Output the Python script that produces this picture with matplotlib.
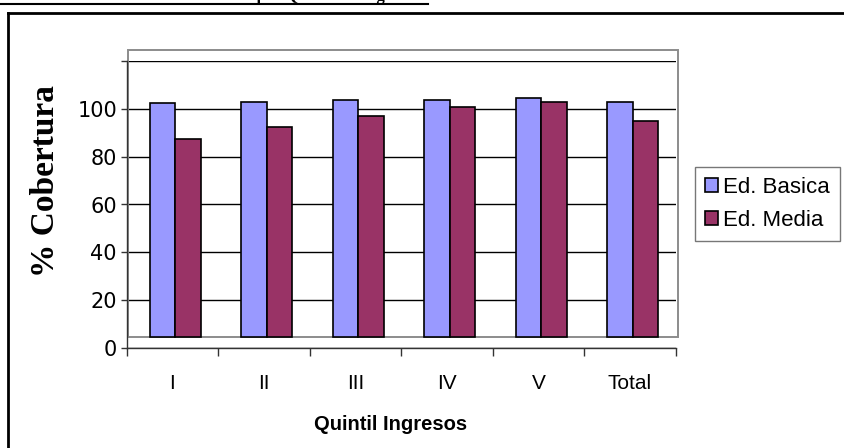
import matplotlib
matplotlib.use("Agg")
import matplotlib.pyplot as plt
from matplotlib.patches import Rectangle
from matplotlib.lines import Line2D
import numpy as np

# data
quintiles = ["I", "II", "III", "IV", "V", "Total"]
basica = [102.5, 103.0, 103.8, 103.8, 104.4, 103.0]
media = [87.4, 92.6, 97.1, 100.8, 103.0, 94.8]
series_names = ["Ed. Basica", "Ed. Media"]
yticks = [0, 20, 40, 60, 80, 100, 120]
ytick_labels = ["0", "20", "40", "60", "80", "100", ""]

W, H = 845, 448
fig = plt.figure(figsize=(W / 100, H / 100), dpi=100)

def fx(px):
    return px / W

def fy(py):
    return 1 - py / H

# axes placed where the excel axis lines sit
ax = fig.add_axes([fx(126.7), fy(348), fx(675.7) - fx(126.7), fy(61) - fy(348)])
ax.set_xlim(-0.5, 5.5)
ax.set_ylim(0, 120)

x = np.arange(len(quintiles))
w = 0.28
shift = 0.03
base = 4.7  # bars sit on the (shifted) plot-area floor, not on zero
ax.bar(x - w / 2 + shift, np.array(basica) - base, w, bottom=base,
       color="#9999FF", edgecolor="black", linewidth=1.2, zorder=3, label=series_names[0])
ax.bar(x + w / 2 + shift, np.array(media) - base, w, bottom=base,
       color="#993366", edgecolor="black", linewidth=1.2, zorder=3, label=series_names[1])

# grey plot-area box, offset from the axes like in the original
ax.add_patch(Rectangle((-0.4825, 4.6), 6.0045, 120.0, fill=False,
                       edgecolor="#8c8c8c", linewidth=1.4, clip_on=False, zorder=1))

ax.set_yticks(yticks)
ax.set_yticklabels(ytick_labels)
ax.yaxis.grid(True, color="black", linewidth=1.0, zorder=0)
ax.set_axisbelow(True)
ax.tick_params(axis="y", direction="out", length=4, width=1, pad=3,
               labelsize=15, colors="#333333", labelcolor="black")

ax.set_xticks(x)
ax.set_xticklabels(quintiles)
ax.set_xticks(np.arange(-0.5, 6, 1), minor=True)
ax.tick_params(axis="x", which="major", length=0, pad=19, labelsize=15)
ax.tick_params(axis="x", which="minor", direction="out", length=6, width=1, color="#333333")

for s in ["top", "right"]:
    ax.spines[s].set_visible(False)
for s in ["left", "bottom"]:
    ax.spines[s].set_color("#333333")
    ax.spines[s].set_linewidth(1.0)

# the y numbers look horizontally stretched in the original: DejaVu is wider
for lbl in ax.get_yticklabels():
    lbl.set_family("DejaVu Sans")
for lbl in ax.get_xticklabels():
    lbl.set_family("Liberation Sans")

fig.text(fx(391), fy(424), "Quintil Ingresos", ha="center", va="center",
         fontsize=14.5, fontweight="bold", family="Liberation Sans")
fig.text(fx(46), fy(181), "% Cobertura", ha="center", va="center", rotation=90,
         fontsize=24, fontweight="bold", family="Liberation Serif")

leg = ax.legend(loc="upper left", bbox_to_anchor=(fx(695), fy(166.7)),
                bbox_transform=fig.transFigure, frameon=True, fancybox=False,
                borderaxespad=0, handlelength=0.6, handleheight=0.6,
                handletextpad=0.2, borderpad=0.45, labelspacing=0.55,
                prop={"family": "Liberation Sans", "size": 16})
leg.get_frame().set_edgecolor("#555555")
leg.get_frame().set_linewidth(1.0)

# outer chart frame (cut by the image edges) and title underline
fig.add_artist(Line2D([fx(8.5), fx(8.5)], [fy(13), 0], color="black", lw=2))
fig.add_artist(Line2D([fx(8.5), 1], [fy(13), fy(13)], color="black", lw=2))
fig.add_artist(Line2D([0, fx(428)], [fy(4), fy(4)], color="black", lw=1.5))
fig.text(fx(10), fy(0.3), "Gráfico 1: Cobertura Educacional por Quintil de Ingresos",
         ha="left", va="baseline", fontsize=12, fontweight="bold", family="Liberation Serif")

fig.savefig("out.png", dpi=100)
